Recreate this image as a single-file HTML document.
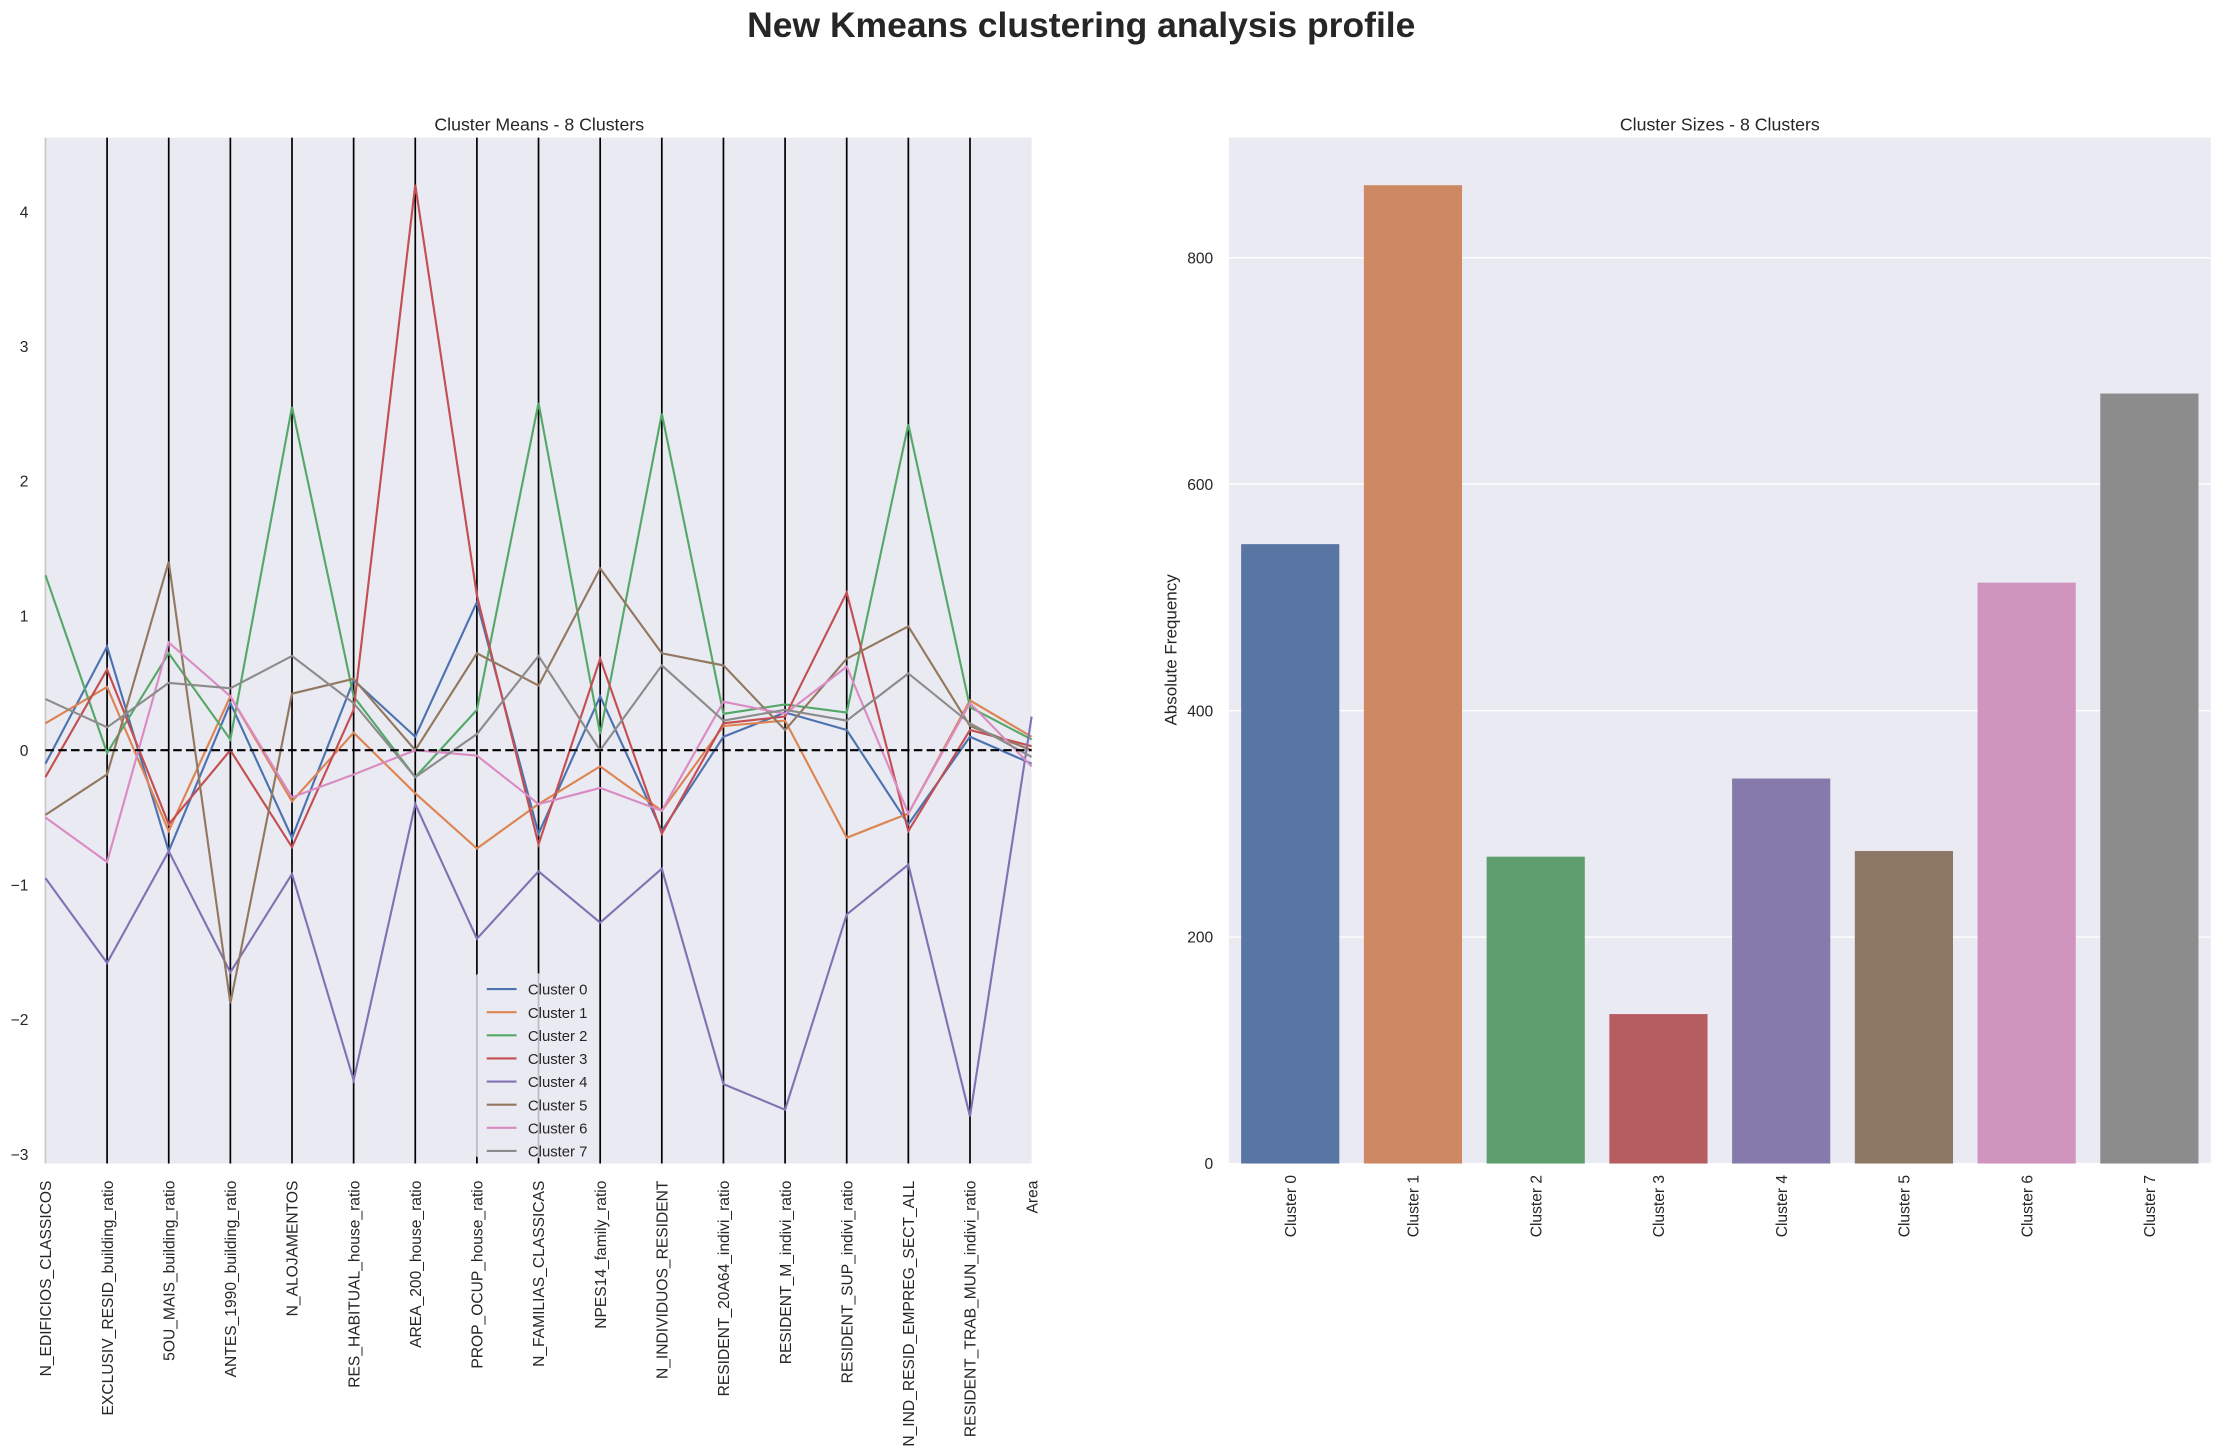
<!DOCTYPE html>
<html><head><meta charset="utf-8"><style>
html,body{margin:0;padding:0;background:#fff;}
svg{display:block;font-family:"Liberation Sans",Arial,sans-serif;}
</style></head><body>
<svg id="fig" width="2225" height="1453" viewBox="0 0 1568 1024" xmlns="http://www.w3.org/2000/svg">
<text x="762" y="26" text-anchor="middle" font-size="25" font-weight="bold" fill="#262626">New Kmeans clustering analysis profile</text>
<g id="left"></g>
<g id="right"></g>
</svg>
<script>
const features = ["N_EDIFICIOS_CLASSICOS","EXCLUSIV_RESID_building_ratio","5OU_MAIS_building_ratio","ANTES_1990_building_ratio","N_ALOJAMENTOS","RES_HABITUAL_house_ratio","AREA_200_house_ratio","PROP_OCUP_house_ratio","N_FAMILIAS_CLASSICAS","NPES14_family_ratio","N_INDIVIDUOS_RESIDENT","RESIDENT_20A64_indivi_ratio","RESIDENT_M_indivi_ratio","RESIDENT_SUP_indivi_ratio","N_IND_RESID_EMPREG_SECT_ALL","RESIDENT_TRAB_MUN_indivi_ratio","Area"];
const clusterNames = ["Cluster 0","Cluster 1","Cluster 2","Cluster 3","Cluster 4","Cluster 5","Cluster 6","Cluster 7"];
const c0 = [-0.1,0.77,-0.75,0.35,-0.65,0.52,0.1,1.1,-0.62,0.4,-0.6,0.1,0.28,0.15,-0.55,0.1,-0.1];
const c1 = [0.2,0.47,-0.6,0.4,-0.38,0.13,-0.32,-0.73,-0.4,-0.12,-0.45,0.18,0.22,-0.65,-0.47,0.37,0.1];
const c2 = [1.3,-0.02,0.72,0.08,2.55,0.4,-0.2,0.3,2.58,0.12,2.5,0.27,0.34,0.28,2.42,0.32,0.08];
const c3 = [-0.2,0.6,-0.55,0.0,-0.72,0.3,4.2,1.15,-0.7,0.68,-0.62,0.2,0.25,1.17,-0.6,0.15,0.03];
const c4 = [-0.95,-1.58,-0.75,-1.65,-0.92,-2.45,-0.4,-1.4,-0.9,-1.28,-0.88,-2.48,-2.67,-1.22,-0.85,-2.72,0.25];
const c5 = [-0.48,-0.18,1.4,-1.88,0.42,0.53,0.0,0.72,0.48,1.35,0.72,0.63,0.15,0.68,0.92,0.18,0.0];
const c6 = [-0.5,-0.83,0.8,0.4,-0.35,-0.18,0.0,-0.04,-0.4,-0.28,-0.45,0.36,0.27,0.62,-0.47,0.35,-0.12];
const c7 = [0.38,0.17,0.5,0.46,0.7,0.35,-0.2,0.12,0.7,0.0,0.63,0.22,0.3,0.22,0.57,0.2,-0.05];
const meanTicks = [-3,-2,-1,0,1,2,3,4];
const sizes = [547,864,271,132,340,276,513,680];
const sizeTicks = [0,200,400,600,800];

const NS="http://www.w3.org/2000/svg";
function mk(parent,tag,attrs,text){const e=document.createElementNS(NS,tag);for(const k in attrs)e.setAttribute(k,attrs[k]);if(text!==undefined)e.textContent=text;parent.appendChild(e);return e;}
const lineCols=["#4c72b0","#dd8452","#55a868","#c44e52","#8172b3","#937860","#da8bc3","#8c8c8c"];
const barCols=["#5975a4","#cc8963","#5f9e6e","#b55d60","#857aab","#8d7866","#d095bf","#8c8c8c"];

// Left chart
const L=document.getElementById('left');
const lx0=32,lx1=727,ly0=97,ly1=820,yMin=-3.07,yMax=4.55;
const xA=i=>lx0+i*(lx1-lx0)/(features.length-1);
const yA=v=>ly1-(v-yMin)/(yMax-yMin)*(ly1-ly0);
let r=mk(L,'rect',{x:lx0,y:ly0,width:lx1-lx0,height:ly1-ly0,fill:'#eaeaf2'});


meanTicks.forEach(t=>{const e=mk(L,'text',{x:20,y:yA(t)+4,'text-anchor':'end','font-size':11,fill:'#262626'},t<0?'\u2212'+(-t):String(t));

});
features.forEach((f,i)=>{
  if(i<features.length-1){const ln=mk(L,'line',{x1:xA(i),x2:xA(i),y1:ly0,y2:ly1,stroke:i===0?'#c8c8c8':'#000','stroke-width':1.2});
  
  }
  const x=xA(i)+4,y=832;
  const t=mk(L,'text',{x:x,y:y,transform:`rotate(-90 ${x} ${y})`,'text-anchor':'end','font-size':11,fill:'#262626'},f);
  
  
});
const series=[c0,c1,c2,c3,c4,c5,c6,c7];
series.forEach((s,k)=>{
  const p=mk(L,'polyline',{points:s.map((v,i)=>xA(i)+','+yA(v)).join(' '),fill:'none',stroke:lineCols[k],'stroke-width':1.5});
  
  
});
const zl=mk(L,'line',{x1:lx0,x2:lx1,y1:yA(0),y2:yA(0),stroke:'#000','stroke-width':1.5,'stroke-dasharray':'6,3'});


const st=mk(L,'text',{x:380,y:92,'text-anchor':'middle','font-size':12.5,fill:'#262626'},'Cluster Means - 8 Clusters');


const lg=mk(L,'g',{});


mk(lg,'rect',{x:335,y:686,width:86,height:130,fill:'#eaeaf2',opacity:0.8,rx:3});
clusterNames.forEach((n,k)=>{const yy=697+k*16.3;
  const g=mk(lg,'g',{});
  
  
  mk(g,'line',{x1:343,x2:364,y1:yy,y2:yy,stroke:lineCols[k],'stroke-width':1.5});
  mk(g,'text',{x:372,y:yy+4,'font-size':10.5,fill:'#262626'},n);
});

// Right chart
const R=document.getElementById('right');
const rx0=866,rx1=1558,ry0=97,ry1=820,sMax=906;
const yB=v=>ry1-v/sMax*(ry1-ry0);
const band=(rx1-rx0)/sizes.length;
r=mk(R,'rect',{x:rx0,y:ry0,width:rx1-rx0,height:ry1-ry0,fill:'#eaeaf2'});


sizeTicks.forEach(t=>{const g=mk(R,'line',{x1:rx0,x2:rx1,y1:yB(t),y2:yB(t),stroke:'#fff','stroke-width':1});


const e=mk(R,'text',{x:855,y:yB(t)+4,'text-anchor':'end','font-size':11,fill:'#262626'},String(t));

});
sizes.forEach((v,i)=>{
  const cx=rx0+band*(i+0.5),w=band*0.8;
  const b=mk(R,'rect',{x:cx-w/2,y:yB(v),width:w,height:yB(0)-yB(v),fill:barCols[i]});
  
  
  const x=cx+4,y=828;
  const t=mk(R,'text',{x:x,y:y,transform:`rotate(-90 ${x} ${y})`,'text-anchor':'end','font-size':11,fill:'#262626'},clusterNames[i]);
  
  
});
const yt=mk(R,'text',{x:829,y:458,transform:'rotate(-90 829 458)','text-anchor':'middle','font-size':12,fill:'#262626'},'Absolute Frequency');


const st2=mk(R,'text',{x:1212,y:92,'text-anchor':'middle','font-size':12.5,fill:'#262626'},'Cluster Sizes - 8 Clusters');


</script>
</body></html>
